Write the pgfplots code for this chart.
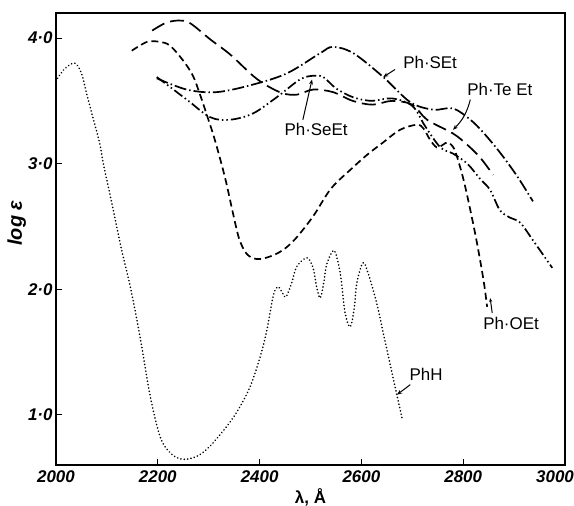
\documentclass[border=0pt]{standalone}
\usepackage{fontspec}
\setmainfont{Liberation Sans}
\usepackage{pgfplots}
\pgfplotsset{compat=1.18}
\usetikzlibrary{arrows.meta}

\newcommand{\lab}{\fontsize{17}{17}\selectfont}

\begin{document}
\begin{tikzpicture}
\path[use as bounding box] (-56bp,-41bp) rectangle (518bp,465bp);
\begin{axis}[
    at={(0,0)}, anchor=south west,
    scale only axis,
    width=509bp, height=452bp,
    xmin=2000, xmax=3000,
    ymin=0.6, ymax=4.2,
    axis line style={line width=1.8bp},
    tick pos=left,
    major tick length=6bp,
    tick style={line width=1.2bp, black},
    xtick={2000,2200,2400,2600,2800,3000},
    xticklabels={2000,2200,2400,2600,2800,{\hspace*{-20bp}3000}},
    ytick={1,2,3,4},
    yticklabels={1·0,2·0,3·0,4·0},
    /pgf/number format/assume math mode=true,
    tick label style={font=\lab\bfseries\itshape},
    xticklabel style={yshift=-2bp},
    xlabel={λ, Å},
    xlabel style={font=\lab\bfseries, at={(axis description cs:0.5,0)}, anchor=north, yshift=-20bp},
    ylabel={log ε},
    ylabel style={font=\fontsize{20}{20}\selectfont\bfseries\itshape, at={(axis description cs:-0.077,0.535)}, anchor=center},
    every axis plot/.append style={black, line width=1.7bp, smooth, tension=0.55},
]

% PhH (dotted)
\addplot[line cap=round, line width=1.8bp, dash pattern=on 0.01bp off 3.4bp] coordinates {
(2003,3.68) (2018,3.76) (2037,3.80) (2050,3.72) (2060,3.56) (2073,3.36) (2086,3.16)
(2093,3.00) (2110,2.68) (2128,2.33) (2147,2.00) (2166,1.60) (2185,1.15) (2205,0.82)
(2226,0.69) (2250,0.645) (2277,0.67) (2300,0.74) (2330,0.88) (2355,1.02) (2381,1.22)
(2401,1.46) (2414,1.67) (2427,1.95) (2436,2.02) (2445,1.97) (2452,1.94) (2463,2.05)
(2473,2.18) (2493,2.25) (2505,2.17) (2512,2.02) (2519,1.93) (2526,2.05) (2532,2.20)
(2546,2.31) (2556,2.18) (2561,2.05) (2568,1.81) (2578,1.70) (2586,1.85) (2591,2.05)
(2603,2.21) (2613,2.13) (2630,1.89) (2643,1.65) (2656,1.41) (2669,1.17) (2680,0.97)
};

% Ph.OEt (dashed)
\addplot[dash pattern=on 7bp off 4bp] coordinates {
(2149,3.90) (2179,3.97) (2204,3.97) (2224,3.94) (2250,3.82) (2269,3.70) (2283,3.55)
(2297,3.38) (2312,3.19) (2332,2.89) (2348,2.60) (2360,2.40) (2375,2.28) (2395,2.24)
(2420,2.26) (2445,2.31) (2470,2.40) (2505,2.58) (2540,2.80) (2578,2.95) (2611,3.07)
(2643,3.17) (2676,3.27) (2709,3.31) (2722,3.28) (2735,3.19) (2748,3.13) (2760,3.15)
(2770,3.17) (2782,3.12) (2792,3.00) (2802,2.85) (2814,2.63) (2827,2.37) (2840,2.07)
(2847,1.86)
};

% Ph.TeEt (long dashes)
\addplot[dash pattern=on 14bp off 6bp] coordinates {
(2189,4.06) (2215,4.12) (2240,4.14) (2263,4.12) (2303,3.99) (2342,3.87) (2387,3.70)
(2415,3.62) (2446,3.56) (2474,3.55) (2505,3.59) (2544,3.57) (2583,3.50) (2622,3.47)
(2660,3.50) (2700,3.47) (2729,3.35) (2780,3.24) (2808,3.15) (2833,3.05) (2859,2.91)
};

% Ph.SEt (dash dot)
\addplot[dash pattern=on 12bp off 3bp on 1.5bp off 3bp] coordinates {
(2198,3.68) (2257,3.59) (2316,3.57) (2387,3.63) (2454,3.72) (2519,3.88) (2544,3.93)
(2584,3.88) (2643,3.69) (2696,3.49) (2741,3.43) (2780,3.44) (2814,3.35) (2839,3.25)
(2872,3.09) (2906,2.90) (2937,2.70)
};

% Ph.SeEt (dash dot dot)
\addplot[dash pattern=on 10bp off 3bp on 1.5bp off 3bp on 1.5bp off 3bp] coordinates {
(2198,3.69) (2257,3.51) (2303,3.37) (2342,3.35) (2387,3.40) (2434,3.53) (2479,3.67)
(2505,3.70) (2525,3.69) (2550,3.60) (2583,3.53) (2620,3.50) (2660,3.52) (2700,3.46)
(2725,3.30) (2755,3.13) (2780,3.08) (2808,3.00) (2833,2.88) (2853,2.79) (2872,2.63)
(2892,2.57) (2912,2.53) (2937,2.39) (2975,2.17)
};

% labels and pointers
\node[font=\lab] at (axis cs:2735,3.81) {Ph·SEt};
\draw[line width=1bp, -{Stealth[length=5bp,width=4bp]}] (axis cs:2666,3.75) -- (axis cs:2643,3.69);
\node[font=\lab] at (axis cs:2872,3.59) {Ph·Te Et};
\draw[line width=1bp, -{Stealth[length=5bp,width=4bp]}] (axis cs:2814,3.51) to[bend left=15] (axis cs:2780,3.27);
\node[font=\lab] at (axis cs:2511,3.27) {Ph·SeEt};
\draw[line width=1bp, -{Stealth[length=5bp,width=4bp]}] (axis cs:2485,3.35) -- (axis cs:2503,3.67);
\node[font=\lab] at (axis cs:2894,1.73) {Ph·OEt};
\draw[line width=1bp, -{Stealth[length=4bp,width=3bp]}] (axis cs:2857,1.81) -- (axis cs:2853,1.93);
\node[font=\lab] at (axis cs:2727,1.32) {PhH};
\draw[line width=1bp, -{Stealth[length=5bp,width=4bp]}] (axis cs:2696,1.24) -- (axis cs:2670,1.16);
\end{axis}
\end{tikzpicture}
\end{document}
